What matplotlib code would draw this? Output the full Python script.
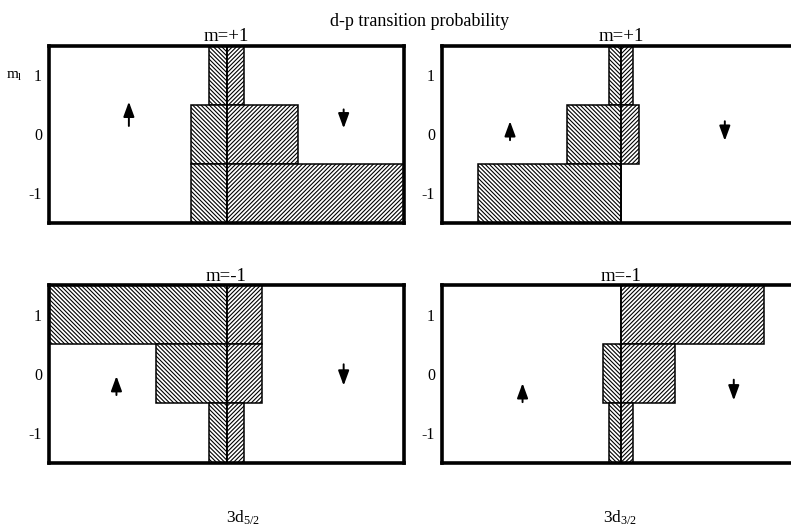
import numpy as np
import matplotlib
matplotlib.use("Agg")
import matplotlib.pyplot as plt

plt.rcParams['font.family'] = ['Liberation Serif', 'DejaVu Serif']
plt.rcParams['mathtext.fontset'] = 'custom'
plt.rcParams['mathtext.rm'] = 'Liberation Serif'
plt.rcParams['mathtext.it'] = 'Liberation Serif:italic'
plt.rcParams['hatch.linewidth'] = 0.8

# m_l levels, top to bottom
ML = [1, 0, -1]
ML_LABELS = ['1', '0', '-1']

# relative transition probability, spin up (left) / spin down (right)
UP_52_P = [0.1, 0.2, 0.2]
DOWN_52_P = [0.1, 0.4, 1.0]
UP_32_P = [0.067, 0.3, 0.8]
DOWN_32_P = [0.067, 0.1, 0.0]
UP_52_M = [1.0, 0.4, 0.1]
DOWN_52_M = [0.2, 0.2, 0.1]
UP_32_M = [0.0, 0.1, 0.067]
DOWN_32_M = [0.8, 0.3, 0.067]

# spin arrows: (x, y_tail, y_head) in data units
ARROWS = {
    'p52': [(-0.55, 0.14, 0.55), (0.66, 0.42, 0.10)],
    'p32': [(-0.62, -0.10, 0.22), (0.58, 0.22, -0.11)],
    'm52': [(-0.62, -0.36, -0.04), (0.66, 0.16, -0.20)],
    'm32': [(-0.55, -0.48, -0.16), (0.63, -0.10, -0.45)],
}

W, H = 791, 529
fig = plt.figure(figsize=(W / 100, H / 100), dpi=100)

def make_axes(x0, x1, ytop, ybot):
    return fig.add_axes([x0 / W, (H - ybot) / H, (x1 - x0) / W, (ybot - ytop) / H])

panels = [
    (make_axes(49, 404, 45.5, 223), UP_52_P, DOWN_52_P, 'm=+1', 'p52'),
    (make_axes(442, 800, 45.5, 223), UP_32_P, DOWN_32_P, 'm=+1', 'p32'),
    (make_axes(49, 404, 285, 462.5), UP_52_M, DOWN_52_M, 'm=-1', 'm52'),
    (make_axes(442, 800, 285, 462.5), UP_32_M, DOWN_32_M, 'm=-1', 'm32'),
]

for ax, up, down, title, key in panels:
    ax.barh(ML, -np.array(up), height=1.0, color='white', edgecolor='k',
            hatch='\\' * 8, linewidth=1.1)
    ax.barh(ML, down, height=1.0, color='white', edgecolor='k',
            hatch='/' * 8, linewidth=1.1)
    ax.axvline(0, color='k', lw=1.1)
    ax.set_xlim(-1, 1)
    ax.set_ylim(-1.5, 1.5)
    ax.set_xticks([])
    ax.set_yticks(ML)
    ax.set_yticklabels(ML_LABELS, fontsize=11.5)
    ax.tick_params(axis='y', length=0, pad=5)
    for sp in ax.spines.values():
        sp.set_linewidth(2.6)
    ax.set_title(title, fontsize=13.5, pad=3)
    for x, y0, y1 in ARROWS[key]:
        ax.annotate('', xy=(x, y1), xytext=(x, y0),
                    arrowprops=dict(arrowstyle='-|>,head_length=0.6,head_width=0.22',
                                    color='k', lw=1.4, mutation_scale=15,
                                    shrinkA=0, shrinkB=0))

fig.text(420 / W, (H - 21) / H, 'd-p transition probability', fontsize=13,
         ha='center', va='center')
fig.text(14 / W, (H - 76) / H, r'm$_{\mathrm{l}}$', fontsize=11,
         ha='center', va='center')
fig.text(243 / W, (H - 518) / H, r'3d$_{\mathrm{5/2}}$', fontsize=12.5,
         ha='center', va='center')
fig.text(620 / W, (H - 518) / H, r'3d$_{\mathrm{3/2}}$', fontsize=12.5,
         ha='center', va='center')

fig.savefig('out.png', dpi=100)
